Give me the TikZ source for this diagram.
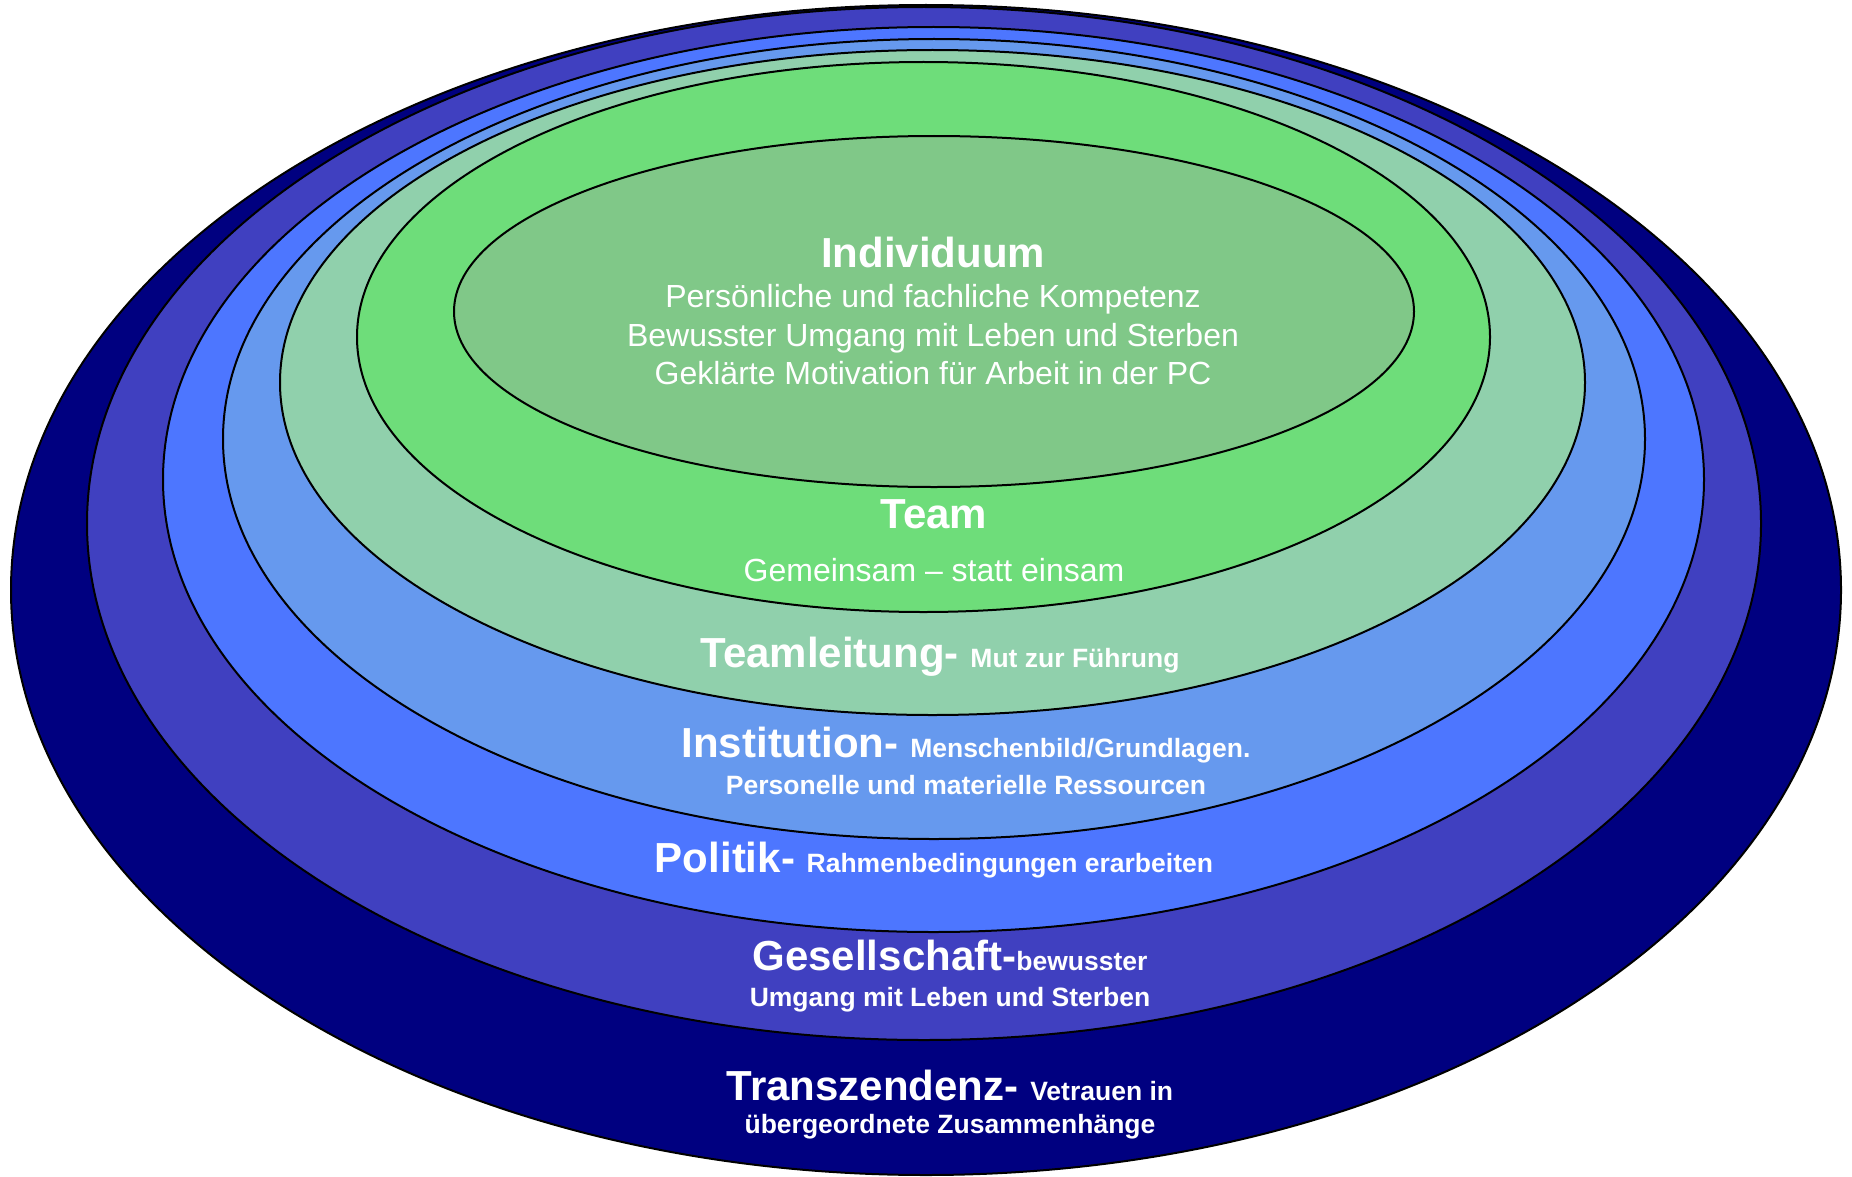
\documentclass[tikz,border=0pt]{standalone}
\usepackage{fontspec}
\setmainfont{Liberation Sans}

\definecolor{ringnavy}{HTML}{000080}
\definecolor{ringindigo}{HTML}{4040C0}
\definecolor{ringblue}{HTML}{4D76FF}
\definecolor{ringsky}{HTML}{6699EE}
\definecolor{ringmint}{HTML}{90D0AC}
\definecolor{ringgreen}{HTML}{6EDD7A}
\definecolor{ringsage}{HTML}{80C888}

\newcommand{\bigword}[1]{{\bfseries\fontsize{21}{25}\selectfont #1}}
\newcommand{\smallword}[1]{{\bfseries\fontsize{13.25}{16}\selectfont #1}}

\begin{document}
\begin{tikzpicture}[x = 0.5pt, y = -0.5pt,
    ring/.style = {draw = black, line width = 1pt},
    label/.style = {text = white, inner sep = 0pt, anchor = base},
    plain/.style = {label, font = \fontsize{16}{19}\selectfont}]
    \useasboundingbox (0, 0) rectangle (1852, 1177);

    \coordinate (R1) at (926, 590);
    \coordinate (R2) at (924, 523.5);
    \coordinate (R3) at (933.5, 479.5);
    \coordinate (R4) at (934, 439);
    \coordinate (R5) at (932.5, 382.5);
    \coordinate (R6) at (923.5, 337);
    \coordinate (R7) at (934, 311.5);

    \draw [ring, fill = ringnavy] (R1) ellipse [x radius = 457.5pt, y radius = 292.5pt];
    \draw [ring, fill = ringindigo] (R2) ellipse [x radius = 418.5pt, y radius = 258.25pt];
    \draw [ring, fill = ringblue] (R3) ellipse [x radius = 385.25pt, y radius = 226.25pt];
    \draw [ring, fill = ringsky] (R4) ellipse [x radius = 355.5pt, y radius = 200pt];
    \draw [ring, fill = ringmint] (R5) ellipse [x radius = 326.25pt, y radius = 166.25pt];
    \draw [ring, fill = ringgreen] (R6) ellipse [x radius = 283.25pt, y radius = 137.5pt];
    \draw [ring, fill = ringsage] (R7) ellipse [x radius = 240pt, y radius = 87.75pt];

    \node [label] (individuum) at (933, 267) {\bigword{Individuum}};
    \node [plain] (kompetenz) at (933, 307) {Persönliche und fachliche Kompetenz};
    \node [plain] (umgang) at (933, 346) {Bewusster Umgang mit Leben und Sterben};
    \node [plain] (motivation) at (933, 384) {Geklärte Motivation für Arbeit in der PC};

    \node [label] (team) at (934, 528) {\bigword{Team}};
    \node [plain] (gemeinsam) at (934, 581) {Gemeinsam – statt einsam};

    \node [label] (teamleitung) at (940, 667) {\bigword{Teamleitung-\ }\smallword{Mut zur Führung}};

    \node [label] (institution) at (966, 757) {\bigword{Institution-\ }\smallword{Menschenbild/Grundlagen.}};
    \node [label] (ressourcen) at (966, 794) {\smallword{Personelle und materielle Ressourcen}};

    \node [label] (politik) at (934, 872) {\bigword{Politik-\ }\smallword{Rahmenbedingungen erarbeiten}};

    \node [label] (gesellschaft) at (950, 970) {\bigword{Gesellschaft-}\smallword{bewusster}};
    \node [label] (sterben) at (950, 1006) {\smallword{Umgang mit Leben und Sterben}};

    \node [label] (transzendenz) at (950, 1100) {\bigword{Transzendenz-\ }\smallword{Vetrauen in}};
    \node [label] (zusammenhang) at (950, 1133) {\smallword{übergeordnete Zusammenhänge}};
  \end{tikzpicture}
\end{document}
